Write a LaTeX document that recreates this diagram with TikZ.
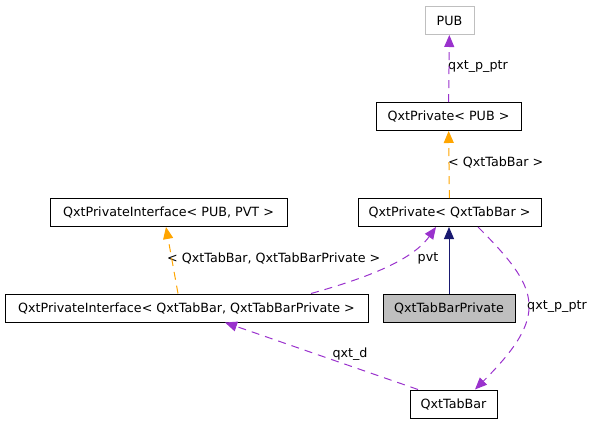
\documentclass[tikz,border=0pt]{standalone}
\usepackage{fontspec}
\setmainfont{DejaVu Sans}
\usetikzlibrary{arrows.meta}
\definecolor{usepurple}{HTML}{9A32CD}
\definecolor{tplorange}{HTML}{FFA500}
\definecolor{inhnavy}{HTML}{191970}
\definecolor{boxgray}{HTML}{BFBFBF}

\begin{document}
\begin{tikzpicture}[x=1pt,y=-1pt]
\tikzstyle{every node}=[font=\fontsize{12.7}{15}\selectfont]
\tikzstyle{cls}=[draw, line width=1pt, inner sep=0pt, minimum height=28pt]
\tikzstyle{lbl}=[inner sep=0pt]
\tikzstyle{tip}=[-{Triangle[length=12pt,width=10pt]}]
\tikzstyle{use}=[tip, usepurple, line width=1pt, dash pattern=on 8pt off 6pt]
\tikzstyle{tpl}=[tip, tplorange, line width=1pt, dash pattern=on 8pt off 6pt]
\useasboundingbox (0,0) rectangle (592,424);
\draw (449.5,20.5) node (pub) [cls,draw=boxgray,minimum width=49pt] {PUB};
\draw (448.5,116.5) node (privpub) [cls,minimum width=145pt] {QxtPrivate< PUB >};
\draw (449.5,212.5) node (privtab) [cls,minimum width=183pt] {QxtPrivate< QxtTabBar >};
\draw (168.5,212.5) node (ifacepv) [cls,minimum width=237pt] {QxtPrivateInterface< PUB, PVT >};
\draw (186.5,308) node (ifacetab) [cls,minimum width=363pt] {QxtPrivateInterface< QxtTabBar, QxtTabBarPrivate >};
\draw (449,308) node (tabpriv) [cls,fill=boxgray,minimum width=132pt] {QxtTabBarPrivate};
\draw (453.5,404) node (tabbar) [cls,minimum width=87pt] {QxtTabBar};
\draw (448,67) node (lptra) [lbl,anchor=west] {qxt\_p\_ptr};
\draw (448,162) node (ltab) [lbl,anchor=west] {< QxtTabBar >};
\draw (167,258) node (ltabs) [lbl,anchor=west] {< QxtTabBar, QxtTabBarPrivate >};
\draw (428,258) node (lpvt) [lbl] {pvt};
\draw (527,307) node (lptrb) [lbl,anchor=west] {qxt\_p\_ptr};
\draw (350,354) node (lqxtd) [lbl] {qxt\_d};
\draw [use] (privpub) -- (pub);
\draw [tpl] (privtab) -- (privpub);
\draw [tpl] ([xshift=-8.5pt]ifacetab.north) -- ([xshift=-2.5pt]ifacepv.south);
\draw [use] ([xshift=124.5pt]ifacetab.north) .. controls +(50,-14) and +(-25,35) .. ([xshift=-13.5pt]privtab.south);
\draw [tip,inhnavy,line width=1pt] (tabpriv.north) -- (tabpriv.north |- privtab.south);
\draw [use] ([xshift=28.5pt]privtab.south) .. controls +(62,62) and +(75,-75) .. ([xshift=21.5pt]tabbar.north);
\draw [use] ([xshift=-35.5pt]tabbar.north) -- ([xshift=38.5pt]ifacetab.south);
\end{tikzpicture}
\end{document}
